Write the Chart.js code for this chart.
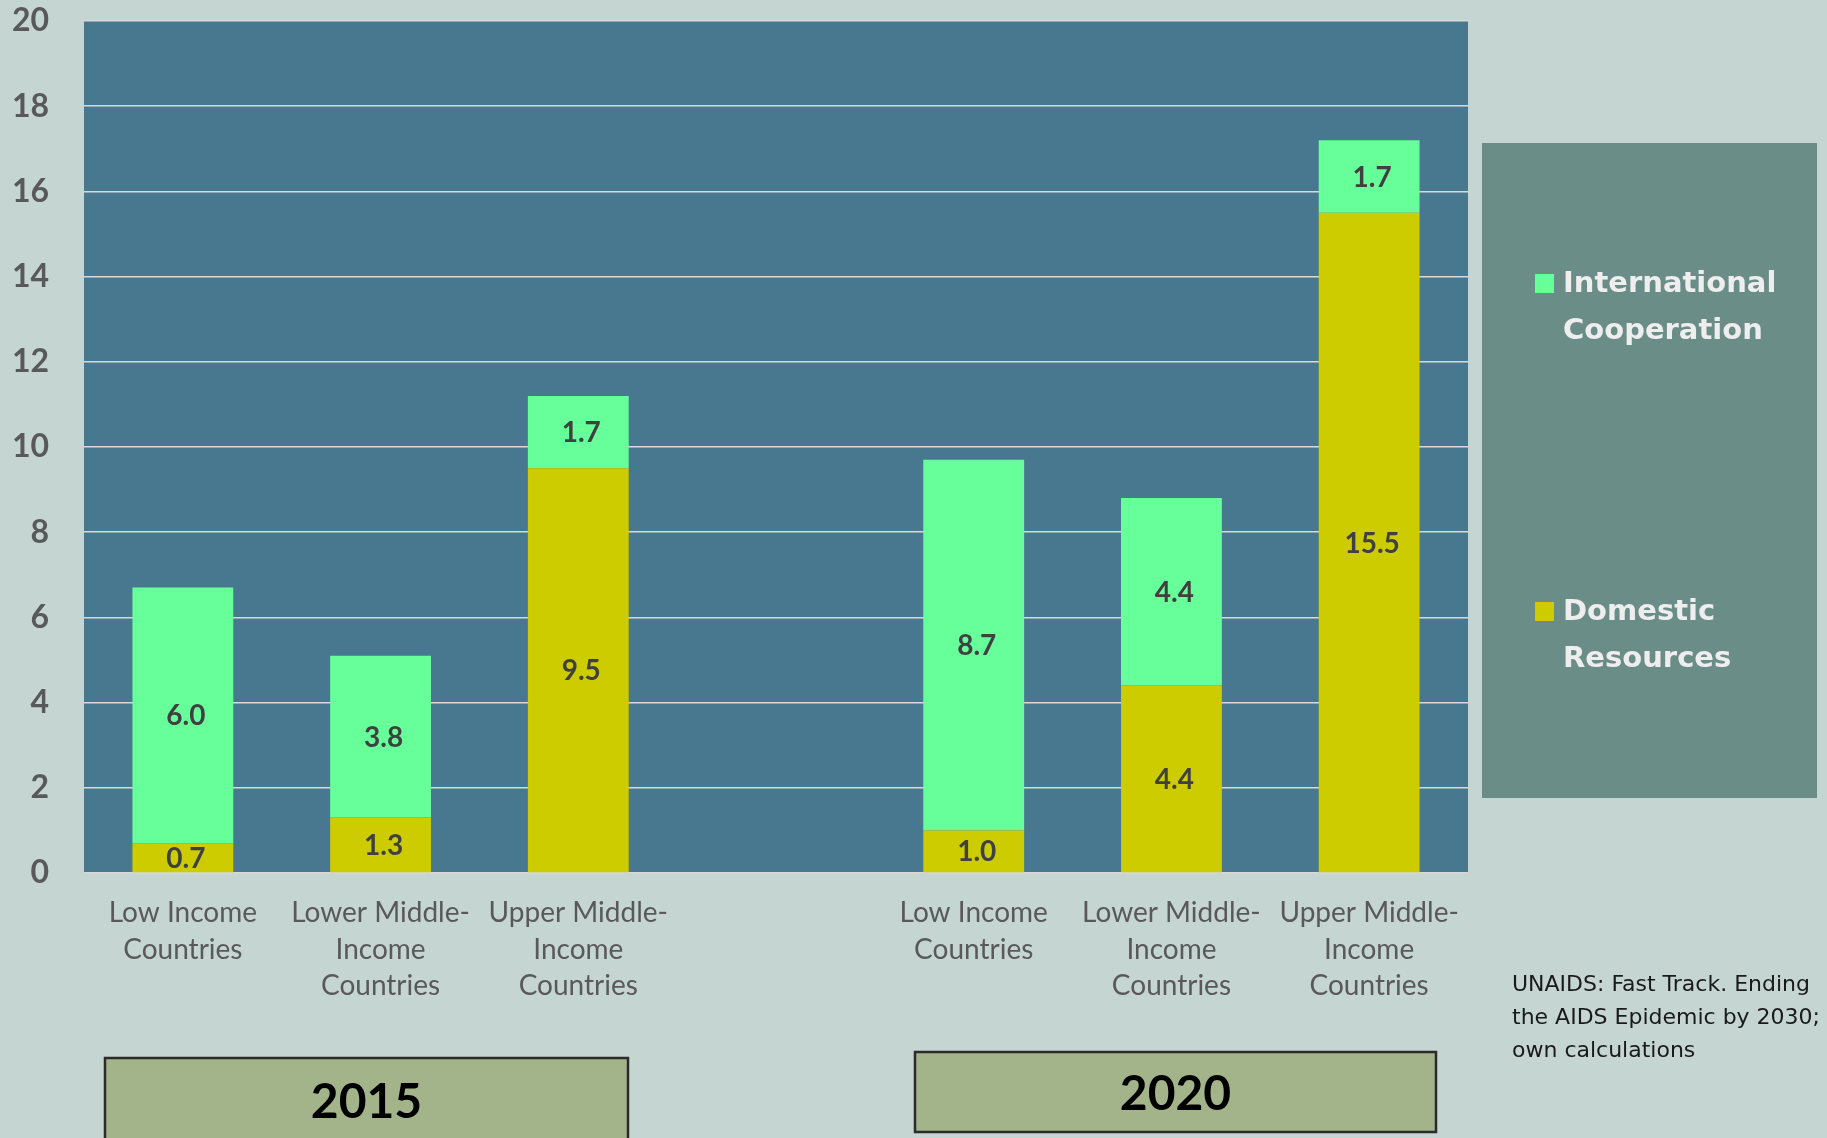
<!DOCTYPE html>
<html>
<head>
<meta charset="utf-8">
<script src="https://cdn.jsdelivr.net/npm/chart.js@4.4.1/dist/chart.umd.min.js"></script>
<style>
  html, body { margin: 0; padding: 0; background: #c5d5d2; }
  #wrap { width: 1827px; height: 1138px; position: relative; }
</style>
</head>
<body>
<div id="wrap"><canvas id="fundingChart" width="1827" height="1138"></canvas></div>
<script>
// Categorías (la del medio vacía separa 2015 de 2020)
const categories = [
    ['Low Income', 'Countries'],
    ['Lower Middle-', 'Income', 'Countries'],
    ['Upper Middle-', 'Income', 'Countries'],
    '',
    ['Low Income', 'Countries'],
    ['Lower Middle-', 'Income', 'Countries'],
    ['Upper Middle-', 'Income', 'Countries']
];
const domesticValues = [0.7, 1.3, 9.5, null, 1.0, 4.4, 15.5];
const internationalValues = [6.0, 3.8, 1.7, null, 8.7, 4.4, 1.7];
const yTicks = [0, 2, 4, 6, 8, 10, 12, 14, 16, 18, 20];
const yearLabels = ['2015', '2020'];
const sourceLines = ['UNAIDS: Fast Track. Ending', 'the AIDS Epidemic by 2030;', 'own calculations'];

const colInternational = '#66ff99';
const colDomestic = '#cccc00';

// Fondo del área del gráfico
const plotBackground = {
    id: 'plotBackground',
    beforeDraw(chart) {
        const a = chart.chartArea;
        const c = chart.ctx;
        c.save();
        c.fillStyle = '#47788f';
        c.fillRect(a.left, a.top, a.right - a.left, a.bottom - a.top);
        c.restore();
    }
};

// Etiquetas de valores dentro de cada segmento
const segmentLabels = {
    id: 'segmentLabels',
    afterDatasetsDraw(chart) {
        const c = chart.ctx;
        c.save();
        c.fillStyle = '#404040';
        c.font = 'bold 28px Lato';
        c.textAlign = 'center';
        c.textBaseline = 'middle';
        chart.data.datasets.forEach((ds, i) => {
            chart.getDatasetMeta(i).data.forEach((bar, j) => {
                const v = ds.data[j];
                if (v == null) return;
                const mid = (bar.y + bar.base) / 2;
                c.fillText(v.toFixed(1), bar.x + 3, mid + 1);
            });
        });
        c.restore();
    }
};

// Leyenda, cajas de año y fuente
const annotations = {
    id: 'annotations',
    afterDraw(chart) {
        const c = chart.ctx;
        c.save();

        // caja de leyenda
        c.fillStyle = '#6a8d87';
        c.fillRect(1482, 143, 335, 655);
        const legendItems = [
            { color: colInternational, lines: ['International', 'Cooperation'], y: 284 },
            { color: colDomestic, lines: ['Domestic', 'Resources'], y: 612 }
        ];
        c.font = 'bold 29px "DejaVu Sans"';
        c.textBaseline = 'middle';
        c.textAlign = 'left';
        legendItems.forEach(it => {
            c.fillStyle = it.color;
            c.fillRect(1535, it.y - 10, 19, 19);
            c.fillStyle = '#eeeeee';
            it.lines.forEach((t, k) => c.fillText(t, 1563, it.y + k * 47));
        });

        // cajas de año
        const boxes = [
            { x: 105, y: 1058, w: 523, h: 110, ty: 1103 },
            { x: 915, y: 1052, w: 521, h: 80, ty: 1095 }
        ];
        boxes.forEach((b, k) => {
            c.fillStyle = '#a3b38a';
            c.fillRect(b.x, b.y, b.w, b.h);
            c.strokeStyle = '#2b2b2b';
            c.lineWidth = 2.5;
            c.strokeRect(b.x, b.y, b.w, b.h);
            c.fillStyle = '#000000';
            c.font = 'bold 48px Lato';
            c.textAlign = 'center';
            c.fillText(yearLabels[k], b.x + b.w / 2, b.ty);
        });

        // fuente
        c.fillStyle = '#1a1a1a';
        c.font = '22px "DejaVu Sans"';
        c.textAlign = 'left';
        sourceLines.forEach((t, k) => c.fillText(t, 1512, 985 + k * 33));
        c.restore();
    }
};

const ctx = document.getElementById('fundingChart');
new Chart(ctx, {
    type: 'bar',
    data: {
        labels: categories,
        datasets: [
            {
                label: 'Domestic Resources',
                data: domesticValues,
                backgroundColor: colDomestic,
                categoryPercentage: 1,
                barPercentage: 0.51
            },
            {
                label: 'International Cooperation',
                data: internationalValues,
                backgroundColor: colInternational,
                categoryPercentage: 1,
                barPercentage: 0.51
            }
        ]
    },
    options: {
        responsive: false,
        animation: false,
        layout: {
            padding: { left: 0, right: 359, top: 21, bottom: 0 }
        },
        plugins: {
            legend: { display: false },
            tooltip: { enabled: false }
        },
        scales: {
            x: {
                stacked: true,
                grid: { display: false, drawTicks: false },
                border: { display: false },
                afterFit(scale) { scale.height = 265; },
                ticks: {
                    color: '#595959',
                    font: { family: 'Lato', size: 28, lineHeight: 1.3 },
                    padding: 22,
                    maxRotation: 0,
                    autoSkip: false
                }
            },
            y: {
                stacked: true,
                min: 0,
                max: 20,
                afterFit(scale) {
                    scale.width = 84;
                    scale.paddingTop = 0;
                },
                afterBuildTicks(scale) {
                    scale.ticks = yTicks.map(v => ({ value: v }));
                },
                grid: {
                    color: '#d9d9d9',
                    lineWidth: 1.5,
                    drawTicks: false
                },
                border: { display: false },
                ticks: {
                    color: '#595959',
                    font: { family: 'Lato', size: 32, weight: 'bold' },
                    padding: 35
                }
            }
        }
    },
    plugins: [plotBackground, segmentLabels, annotations]
});
</script>
</body>
</html>
